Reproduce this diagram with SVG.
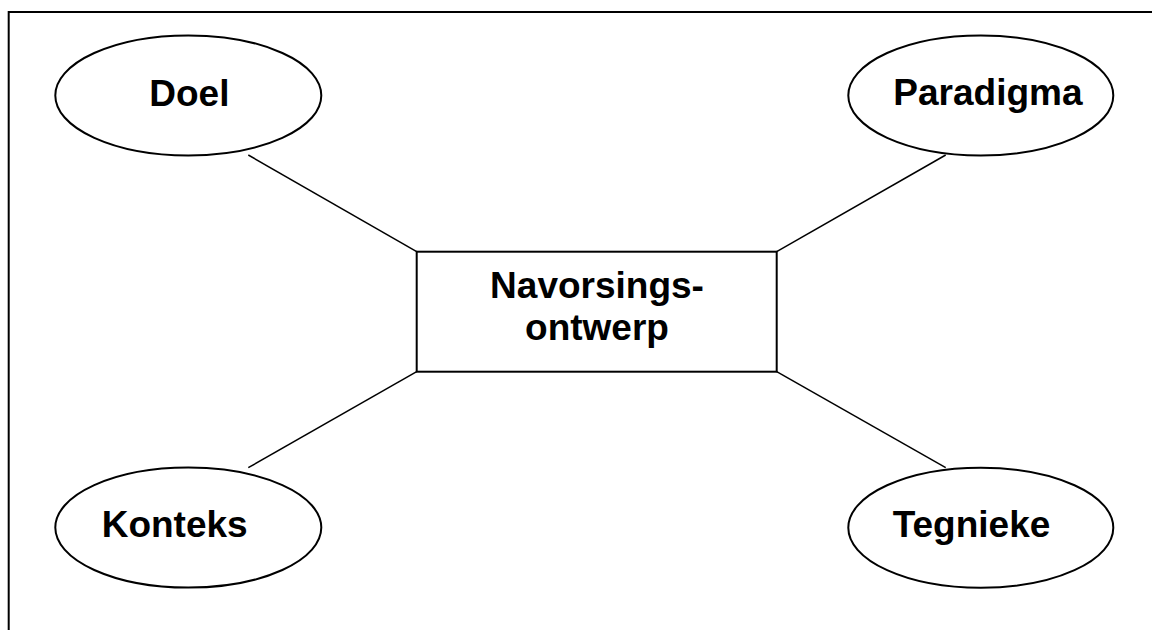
<svg xmlns="http://www.w3.org/2000/svg" width="1152" height="630" viewBox="0 0 1152 630">
<style>
.shape{fill:#fff;stroke:#000;stroke-width:2}
.conn line{stroke:#000;stroke-width:1.5}
.lbl{font-family:"Liberation Sans",Arial,sans-serif;font-weight:bold;font-size:37px;fill:#000}
</style>
<rect width="1152" height="630" fill="#fff"/>
<path d="M8.7 630 V12 H1152" fill="none" stroke="#000" stroke-width="2"/>
<g id="connectors" class="conn">
<line x1="248.3" y1="155" x2="416.7" y2="251.7"/>
<line x1="945.7" y1="155" x2="776.7" y2="251.7"/>
<line x1="248.3" y1="467.7" x2="416.7" y2="371.7"/>
<line x1="945.7" y1="467.7" x2="776.7" y2="371.7"/>
</g>
<g id="doel">
<ellipse class="shape" cx="188.3" cy="95.4" rx="133" ry="60"/>
<text class="lbl" x="149.3" y="106">Doel</text>
</g>
<g id="paradigma">
<ellipse class="shape" cx="980.8" cy="95.4" rx="132.5" ry="60"/>
<text class="lbl" x="893.3" y="105">Paradigma</text>
</g>
<g id="konteks">
<ellipse class="shape" cx="188.3" cy="527.6" rx="133" ry="60"/>
<text class="lbl" x="101.7" y="537.3">Konteks</text>
</g>
<g id="tegnieke">
<ellipse class="shape" cx="980.8" cy="527.7" rx="132.5" ry="60"/>
<text class="lbl" x="892.7" y="537.3">Tegnieke</text>
</g>
<g id="navorsingsontwerp">
<rect class="shape" x="416.7" y="251.7" width="360" height="120"/>
<text class="lbl" x="597" y="298.3" text-anchor="middle">Navorsings-</text>
<text class="lbl" x="597" y="340" text-anchor="middle">ontwerp</text>
</g>
</svg>
